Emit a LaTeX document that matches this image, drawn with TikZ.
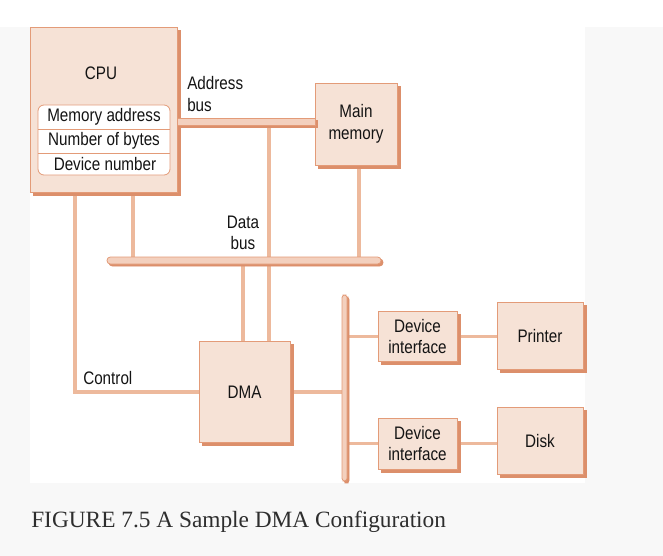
\documentclass[tikz,border=0pt]{standalone}
\usepackage{fontspec}
\setmainfont{Liberation Serif}
\newfontfamily\dfont[FakeStretch=0.84]{Liberation Sans}
\usetikzlibrary{shadows}
\definecolor{bggray}{HTML}{F8F8F8}
\definecolor{boxfill}{HTML}{F6E2D6}
\definecolor{busfill}{HTML}{F3D0BE}
\definecolor{edgec}{HTML}{E39B78}
\definecolor{shadowc}{HTML}{DC8F6B}
\definecolor{connc}{HTML}{EDB99C}
\definecolor{txt}{HTML}{141414}
\definecolor{capc}{HTML}{2E2E2E}
\pgfdeclarelayer{back}
\pgfdeclarelayer{bg}
\pgfsetlayers{back,bg,main}
\begin{document}
\begin{tikzpicture}[x=0.75pt,y=-0.75pt,
  lbl/.style={font=\dfont\fontsize{13.6}{16.2}\selectfont, text=txt, align=center, inner sep=0pt},
  sbox/.style={lbl, draw=edgec, fill=boxfill, line width=0.6pt,
    copy shadow={shadow xshift=2.25pt, shadow yshift=-2.25pt, fill=shadowc, draw=shadowc, opacity=1}},
  busbar/.style={draw=edgec, fill=busfill, line width=0.6pt, inner sep=0pt,
    copy shadow={shadow xshift=1.5pt, shadow yshift=-1.5pt, fill=shadowc, draw=shadowc, opacity=1}},
  conn/.style={draw=connc, line width=2.5pt},
]
\useasboundingbox (0,0) rectangle (663,556);
\begin{pgfonlayer}{back}
  \fill[bggray] (0,0) rectangle (663,556);
  \fill[white] (0,0) rectangle (663,27);
  \fill[white] (30,27) rectangle (585,483);
\end{pgfonlayer}

% boxes
\node[sbox, minimum width=110.25pt, minimum height=123.75pt] (cpu) at (103.5,109.5) {};
\node[lbl] (cputxt) at (101,73) {CPU};
\node[draw=edgec, fill=white, rounded corners=4.5pt, line width=0.6pt,
      minimum width=99pt, minimum height=52.5pt, inner sep=0pt] (regs) at (104,140) {};
\draw[edgec, line width=0.6pt] (38,129) -- (170,129) (38,153) -- (170,153);
\node[lbl] (r1) at (104,117) {Memory address};
\node[lbl] (r2) at (104,141) {Number of bytes};
\node[lbl] (r3) at (105,164) {Device number};

\node[sbox, minimum width=61.5pt, minimum height=61.5pt] (mem) at (356,124) {Main\\memory};
\node[sbox, minimum width=68.25pt, minimum height=75.75pt] (dma) at (244.5,392) {DMA};
\node[sbox, minimum width=59.25pt, minimum height=37.5pt] (di1) at (417.5,336.5) {Device\\interface};
\node[sbox, minimum width=64.5pt, minimum height=50.25pt] (printer) at (540,336) {Printer};
\node[sbox, minimum width=59.25pt, minimum height=38.25pt] (di2) at (417.5,443.5) {Device\\interface};
\node[sbox, minimum width=64.5pt, minimum height=50.25pt] (disk) at (540,441) {Disk};

% buses
\node[busbar, minimum width=103.5pt, minimum height=5.25pt] (addrbus) at (246,121.5) {};
\node[busbar, rounded corners=2.5pt, minimum width=205.5pt, minimum height=5.25pt] (databus) at (244,260.5) {};
\node[busbar, rounded corners=2pt, minimum width=3.75pt, minimum height=139.5pt] (iobus) at (344.5,388) {};

% labels
\node[lbl, align=left, anchor=west] (abl) at (187,94) {Address\\bus};
\node[lbl] (dbl) at (243,233) {Data\\bus};
\node[lbl, anchor=west] (ctl) at (83,378) {Control};

% caption
\node[font=\fontsize{17.5}{20}\selectfont, text=capc, anchor=base west, inner sep=0pt] (cap) at (31,527) {FIGURE 7.5 A Sample DMA Configuration};

% connectors
\coordinate (t1) at (133,0);
\coordinate (t2) at (269,0);
\coordinate (t3) at (359,0);
\coordinate (t4) at (243,0);
\coordinate (t5) at (75,0);
\begin{pgfonlayer}{bg}
  \draw[conn] (cpu.south -| t1) -- (databus.north -| t1);
  \draw[conn] (addrbus.south -| t2) -- (dma.north -| t2);
  \draw[conn] (mem.south -| t3) -- (databus.north -| t3);
  \draw[conn] (databus.south -| t4) -- (dma.north -| t4);
  \draw[conn] (cpu.south -| t5) |- (dma.west);
  \draw[conn] (dma.east) -- (dma.east -| iobus.west);
  \draw[conn] (iobus.east |- di1.west) -- (di1.west);
  \draw[conn] (di1.east) -- (di1.east -| printer.west);
  \draw[conn] (iobus.east |- di2.west) -- (di2.west);
  \draw[conn] (di2.east) -- (di2.east -| disk.west);
\end{pgfonlayer}
\end{tikzpicture}
\end{document}
